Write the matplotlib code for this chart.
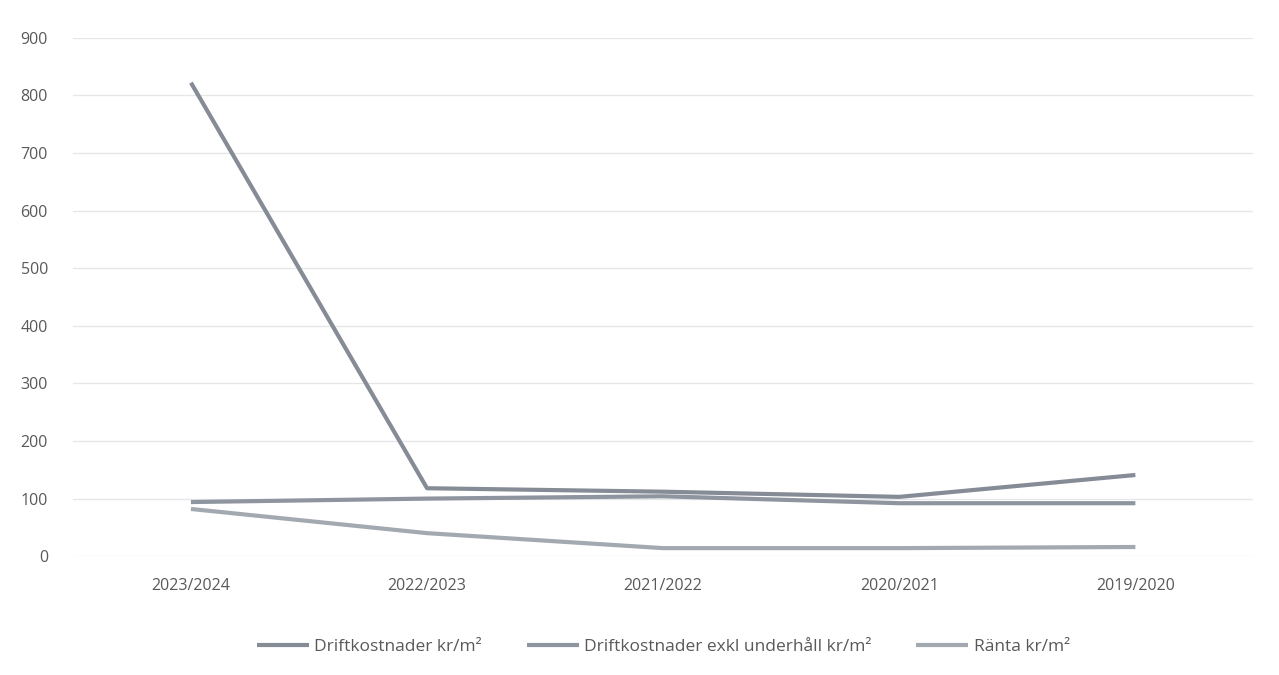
import matplotlib
matplotlib.use('Agg')
import matplotlib.pyplot as plt

# --- Data ---
years = ['2023/2024', '2022/2023', '2021/2022', '2020/2021', '2019/2020']
drift = [822, 118, 112, 103, 141]
drift_exkl = [94, 100, 104, 92, 92]
ranta = [82, 40, 14, 14, 16]

labels = ['Driftkostnader kr/m²', 'Driftkostnader exkl underhåll kr/m²', 'Ränta kr/m²']
colors = ['#858c96', '#8e959f', '#a3a9b1']

TICK = '#595959'
GRID = '#e4e6ea'

plt.rcParams['font.family'] = ['Open Sans', 'DejaVu Sans']

fig = plt.figure(figsize=(12.79, 6.75), dpi=100, facecolor='white')
ax = fig.add_axes([0.057, 0.176, 0.923, 0.768])

x = range(len(years))
for vals, lab, col in zip([drift, drift_exkl, ranta], labels, colors):
    ax.plot(x, vals, color=col, linewidth=3, label=lab, solid_capstyle='butt')

ax.set_xlim(-0.5, len(years) - 0.5)
ax.set_ylim(0, 900)
ax.set_yticks(range(0, 901, 100))
ax.set_xticks(list(x))
ax.set_xticklabels(years)
ax.grid(axis='y', color=GRID, linewidth=0.9)
ax.set_axisbelow(True)
for s in ax.spines.values():
    s.set_visible(False)
ax.tick_params(length=0, colors=TICK, labelsize=11.5)
ax.tick_params(axis='y', pad=18)
ax.tick_params(axis='x', pad=16)

ax.legend(loc='upper center', bbox_to_anchor=(0.5, -0.13), ncol=3, frameon=False,
          fontsize=12.5, labelcolor=TICK, handlelength=3, columnspacing=2.6,
          handletextpad=0.3)

fig.savefig('out.png', dpi=100, facecolor='white')
